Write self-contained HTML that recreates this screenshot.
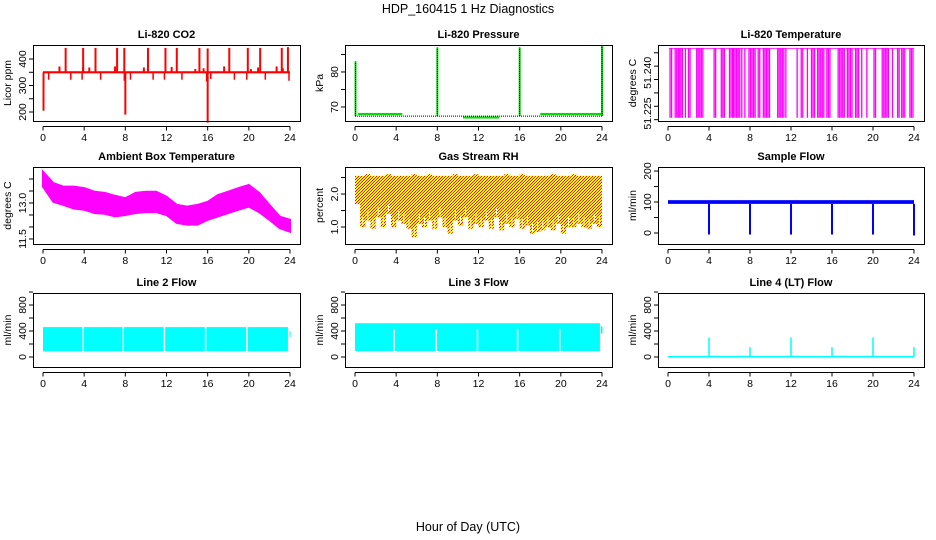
<!DOCTYPE html>
<html><head><meta charset="utf-8">
<style>
html,body{margin:0;padding:0;background:#fff;}
svg{display:block;font-family:"Liberation Sans",Arial,sans-serif;}
.t{font-weight:bold;font-size:11px;text-anchor:middle;}
.tk{font-size:10.5px;text-anchor:middle;}
</style></head>
<body>
<svg id="chart" width="936" height="540" viewBox="0 0 936 540" xmlns="http://www.w3.org/2000/svg">
<defs>
<pattern id="rhpat" width="3" height="3" patternUnits="userSpaceOnUse">
<rect width="3" height="3" fill="#ffff00"/>
<rect x="0" y="0" width="1" height="1" fill="#ff0000"/>
<rect x="2" y="1" width="1" height="1" fill="#ff0000"/>
<rect x="1" y="2" width="1" height="1" fill="#ff0000"/>
</pattern>
</defs>
<text x="468" y="13" font-size="12.5" text-anchor="middle">HDP_160415  1 Hz Diagnostics</text>
<text x="468" y="531" font-size="12.5" text-anchor="middle">Hour of Day (UTC)</text>
</svg>
<script>
// ---- data ----
const xTicks=[0,4,8,12,16,20,24];
const co2Base=350;
const co2UpHours=[2.2,3.9,5.1,7.2,7.9,10.2,11.9,13.0,15.2,16.0,18.1,19.9,21.1,23.2,23.8];
const co2UpVals=[442,442,442,442,442,442,442,442,442,440,442,442,442,442,445];
const co2SmallHours=[1.6,3.9,4.5,7.0,9.8,12.5,14.8,15.6,17.6,20.2,20.9,22.7,23.3];
const co2SmallVals=[372,370,368,372,368,370,362,365,372,362,368,372,365];
const co2DipHours=[0.05,0.55,2.7,3.8,5.6,7.9,8.0,8.5,10.7,11.8,13.5,15.9,16.0,16.3,18.6,19.8,21.6,23.9];
const co2DipVals=[205,322,322,322,322,318,190,322,322,322,322,315,160,325,322,322,322,318];
const presBase=67.4;
const presGreenStart=[0.3,10.5,18.0];
const presGreenEnd=[4.6,14.0,24.0];
const presGreenVal=[68.0,67.0,68.0];
const presSpikeHours=[0.05,8.0,16.0,24.0];
const presSpikeVals=[83,87,87,87.5];
const ltTop=51.2468, ltBot=51.2207;
const ltBlockStart=[0.2,0.7,1.1,1.7,2.0,2.8,4.5,5.2,6.0,6.4,7.2,7.5,7.9,8.8,9.3,10.7,11.5,12.6,13.0,13.6,14.0,14.6,15.5,16.6,17.5,18.3,18.9,19.4,20.1,20.9,21.9,22.4,22.8,23.6];
const ltBlockEnd=[0.4,1.0,1.5,1.8,2.2,3.5,4.7,5.5,6.3,7.0,7.3,7.6,8.6,9.0,10.0,11.3,11.6,12.7,13.2,13.7,14.3,15.3,15.9,17.2,18.0,18.7,19.0,19.5,20.3,21.5,22.0,22.6,23.2,23.9];
const ambHours=[0,1,2,3,4,5,6,7,8,9,10,11,12,13,14,15,16,17,18,19,20,21,22,23,24];
const ambUpper=[14.3,13.83,13.68,13.68,13.62,13.47,13.42,13.3,13.2,13.42,13.47,13.47,13.26,12.92,12.85,12.92,13.05,13.33,13.47,13.62,13.75,13.42,12.92,12.43,12.3];
const ambLower=[13.68,13.05,12.92,12.77,12.72,12.58,12.55,12.44,12.5,12.58,12.62,12.62,12.5,12.17,12.1,12.1,12.3,12.44,12.58,12.72,12.85,12.62,12.3,11.95,11.8];
const rhHours=[0,0.5,1,1.5,2,2.5,3,3.5,4,4.5,5,5.5,6,6.5,7,7.5,8,8.5,9,9.5,10,10.5,11,11.5,12,12.5,13,13.5,14,14.5,15,15.5,16,16.5,17,17.5,18,18.5,19,19.5,20,20.5,21,21.5,22,22.5,23,23.5,24];
const rhUpper=[2.55,2.55,2.6,2.55,2.55,2.55,2.6,2.55,2.55,2.55,2.55,2.6,2.55,2.55,2.6,2.55,2.55,2.55,2.55,2.6,2.55,2.55,2.55,2.6,2.55,2.55,2.55,2.55,2.55,2.6,2.55,2.55,2.6,2.55,2.55,2.55,2.55,2.55,2.6,2.55,2.55,2.55,2.6,2.55,2.55,2.55,2.55,2.55,2.55];
const rhLower=[1.7,1.0,1.2,0.95,1.3,1.0,1.4,1.0,1.2,1.1,0.95,0.7,1.1,1.0,1.2,0.95,1.3,1.0,0.8,1.2,1.05,1.3,0.95,1.1,1.0,1.2,0.95,1.3,0.9,1.1,1.0,1.25,0.95,1.05,0.8,0.85,0.9,1.0,0.9,1.1,0.8,1.0,1.0,1.1,1.0,0.95,1.1,1.0,1.6];
const sfLow=94, sfHigh=106;
const sfDipHours=[4.0,8.0,12.0,16.0,20.0,24.0];
const sfDipVals=[-5,-5,-5,-5,-5,-8];
const l2Low=88, l2High=460;
const l2GapHours=[3.9,7.8,11.8,15.8,19.8];
const l3Low=90, l3High=520;
const l3GapHours=[3.8,7.9,11.9,15.8,19.9];
const l4Base=5;
const l4SpikeHours=[4.0,8.0,12.0,16.0,20.0,24.0];
const l4SpikeVals=[300,150,300,150,300,150];

// ---- layout ----
const NS='http://www.w3.org/2000/svg';
const svg=document.getElementById('chart');
const colX=[[33,300],[345,612],[658,924]];
const rowY=[[45,121],[167,244],[293,367]];
function mk(tag,attrs,parent){const e=document.createElementNS(NS,tag);for(const k in attrs)e.setAttribute(k,attrs[k]);(parent||svg).appendChild(e);return e;}

function panel(name,col,row,title,ylab,ymin,ymax,yTicks,yLabels){
  const [x0,x1]=colX[col],[y0,y1]=rowY[row];
  const g=mk('g',{});
  
  
  const xs=h=>x0+10+(x1-x0-20)*h/24;
  const ys=v=>y1-(v-ymin)/(ymax-ymin)*(y1-y0);
  const plot=mk('g',{},g);
  
  
  const t=mk('text',{x:(x0+x1)/2,y:y0-7,class:'t'},g);t.textContent=title;
  
  
  const yl=mk('text',{x:0,y:0,'font-size':'10.5','text-anchor':'middle',transform:`translate(${x0-22},${(y0+y1)/2}) rotate(-90)`},g);yl.textContent=ylab;
  
  
  const ax=mk('g',{stroke:'#000','stroke-width':1,fill:'none'},g);
  
  
  mk('line',{x1:xs(0),x2:xs(24),y1:y1+5.5,y2:y1+5.5},ax);
  xTicks.forEach(h=>{
    mk('line',{x1:xs(h),x2:xs(h),y1:y1+5.5,y2:y1+9.5},ax);
    const tx=mk('text',{x:xs(h),y:y1+20,class:'tk',stroke:'none',fill:'#000'},g);tx.textContent=h;
    
    
  });
  const ay=mk('g',{stroke:'#000','stroke-width':1},g);
  
  
  yTicks.forEach(v=>{mk('line',{x1:x0-4,x2:x0,y1:ys(v),y2:ys(v)},ay);});
  yLabels.forEach(([v,s])=>{
    const tx=mk('text',{x:0,y:0,'font-size':'10.5','text-anchor':'middle',transform:`translate(${x0-7},${ys(v)}) rotate(-90)`},g);tx.textContent=s;
    
    
  });
  return {g,plot,xs,ys,box:()=>{const b=mk('rect',{x:x0+.5,y:y0+.5,width:x1-x0,height:y1-y0,fill:'none',stroke:'#000','stroke-width':1},g);}};
}
function vline(p,h,a,b,color,w){const l=mk('line',{x1:p.xs(h),x2:p.xs(h),y1:p.ys(a),y2:p.ys(b),stroke:color,'stroke-width':w||1},p.plot);return l;}
function band(p,h0,h1,lo,hi,color){const r=mk('rect',{x:p.xs(h0),y:p.ys(hi),width:p.xs(h1)-p.xs(h0),height:p.ys(lo)-p.ys(hi),fill:color},p.plot);return r;}

// CO2
let p=panel('co2',0,0,'Li-820 CO2','Licor ppm',166,453,[200,250,300,350,400],[[200,'200'],[300,'300'],[400,'400']]);
band(p,0,24,co2Base-4,co2Base+4,'#ff0000');
co2UpHours.forEach((h,i)=>vline(p,h,co2Base,co2UpVals[i],'#ff0000',2));
co2SmallHours.forEach((h,i)=>vline(p,h,co2Base,co2SmallVals[i],'#ff0000',2));
co2DipHours.forEach((h,i)=>vline(p,h,co2Base,co2DipVals[i],'#ff0000',i%6==0?2:1.5));
p.box();

// Pressure
p=panel('pressure',1,0,'Li-820 Pressure','kPa',66,87.7,[70,75,80,85],[[70,'70'],[80,'80']]);
presGreenStart.forEach((s,i)=>band(p,s,presGreenEnd[i],presGreenVal[i]-0.3,presGreenVal[i]+0.3,'#00dd00'));
let bl=mk('line',{x1:p.xs(0),x2:p.xs(24),y1:p.ys(presBase),y2:p.ys(presBase),stroke:'#000','stroke-dasharray':'1,1'},p.plot);

presSpikeHours.forEach((h,i)=>{vline(p,h,presBase,presSpikeVals[i],'#00dd00',2);const l=vline(p,h,presBase,presSpikeVals[i],'#000',1);l.setAttribute('stroke-dasharray','1,1');});
p.box();

// Li-820 Temperature
p=panel('li820-temp',2,0,'Li-820 Temperature','degrees C',51.2195,51.2479,[51.220,51.225,51.230,51.235,51.240,51.245],[[51.2375,'51.240'],[51.2223,'51.225']]);
band(p,0.1,24,ltTop-0.0003,ltTop,'#ff00ff');
ltBlockStart.forEach((s,i)=>{
  const e=ltBlockEnd[i];
  for(let h=s;h<=e+0.001;h+=0.15){vline(p,h,ltBot,ltTop,'#ff00ff',1.3);}
});
p.box();

// Ambient
p=panel('ambient-temp',0,1,'Ambient Box Temperature','degrees C',11.29,14.5,[11.5,12,12.5,13,13.5,14],[[11.5,'11.5'],[13,'13.0']]);
let pts=ambHours.map((h,i)=>p.xs(h)+','+p.ys(ambUpper[i])).concat(ambHours.slice().reverse().map((h,k)=>{const i=ambHours.length-1-k;return p.xs(h)+','+p.ys(ambLower[i]);}));
let pg=mk('polygon',{points:pts.join(' '),fill:'#ff00ff',stroke:'#ff00ff','stroke-width':2},p.plot);

p.box();

// RH
p=panel('gas-rh',1,1,'Gas Stream RH','percent',0.485,2.82,[1,1.5,2,2.5],[[1,'1.0'],[2,'2.0']]);
rhHours.forEach((h,i)=>{if(i<rhHours.length-1){band(p,h,rhHours[i+1],rhLower[i],rhUpper[i],'url(#rhpat)');}});
rhHours.forEach((h,i)=>{if(i>0&&i<rhHours.length-1){vline(p,h+0.25,rhLower[i]+0.3,rhLower[i]+0.05,'#ffffff',1);}});
p.box();

// Sample flow
p=panel('sample-flow',2,1,'Sample Flow','ml/min',-35.5,213,[0,50,100,150,200],[[0,'0'],[100,'100'],[200,'200']]);
band(p,0,24,sfLow,sfHigh,'#0000ff');
sfDipHours.forEach((h,i)=>vline(p,h,sfLow,sfDipVals[i],'#0000ff',2));
p.box();

// Line 2
p=panel('line2-flow',0,2,'Line 2 Flow','ml/min',-154,985,[0,200,400,600,800,1000],[[0,'0'],[400,'400'],[800,'800']]);
band(p,0,23.8,l2Low,l2High,'#00ffff');
band(p,23.95,24.05,300,400,'#00ffff');
l2GapHours.forEach(h=>vline(p,h,l2Low,l2High,'#ffffff',1.5));
p.box();

// Line 3
p=panel('line3-flow',1,2,'Line 3 Flow','ml/min',-154,985,[0,200,400,600,800,1000],[[0,'0'],[400,'400'],[800,'800']]);
band(p,0,23.8,l3Low,l3High,'#00ffff');
band(p,23.9,24.05,360,470,'#00ffff');
l3GapHours.forEach(h=>vline(p,h,l3Low,l3High-90,'#ffffff',1.5));
p.box();

// Line 4
p=panel('line4-flow',2,2,'Line 4 (LT) Flow','ml/min',-154,985,[0,200,400,600,800,1000],[[0,'0'],[400,'400'],[800,'800']]);
band(p,0,24,l4Base-12,l4Base+12,'#00ffff');
l4SpikeHours.forEach((h,i)=>vline(p,h,l4Base,l4SpikeVals[i],'#00ffff',1.5));
p.box();
</script>
</body></html>
